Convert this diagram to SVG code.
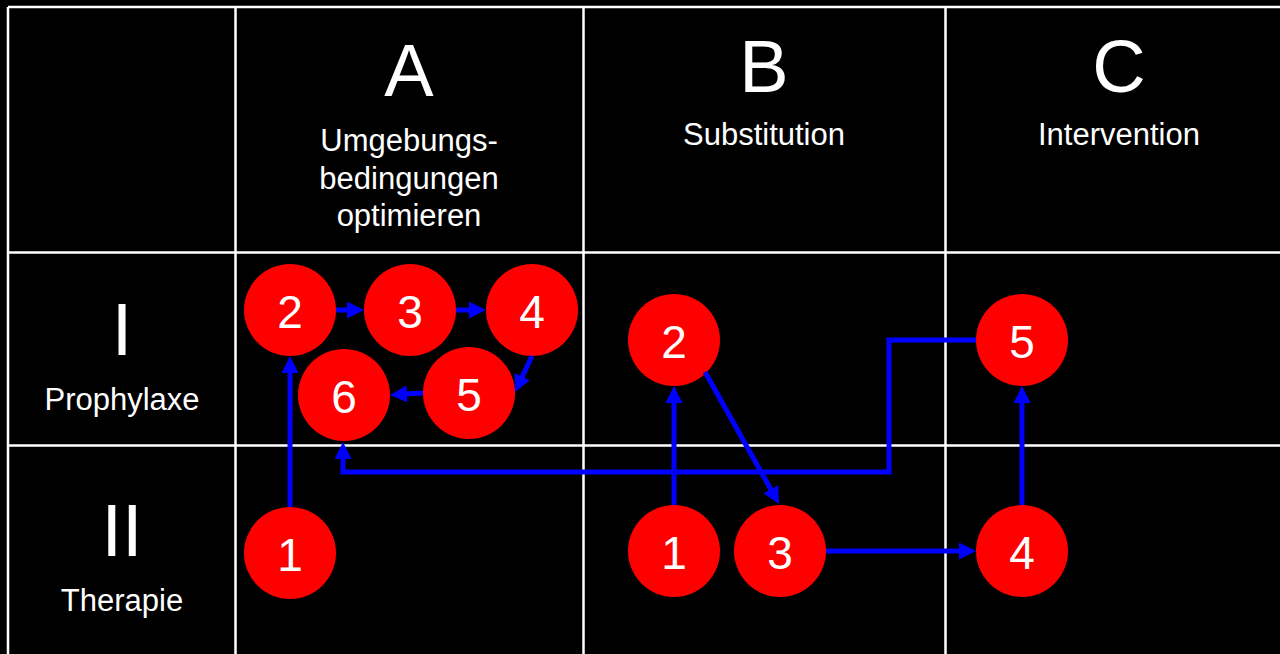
<svg xmlns="http://www.w3.org/2000/svg" width="1280" height="654" viewBox="0 0 1280 654">
<defs>
<style>
.grid{stroke:#ffffff;stroke-width:2.5;fill:none}
.node circle{fill:#ff0000}
.node text{fill:#ffffff;font-family:"Liberation Sans",Arial,sans-serif;font-size:46px;text-anchor:middle}
.hdr{fill:#ffffff;font-family:"Liberation Sans",Arial,sans-serif;text-anchor:middle}
.big{font-size:74px}
.sub{font-size:31px}
.conn{stroke:#0000ff;stroke-width:5;fill:none;marker-end:url(#arr)}
</style>
<marker id="arr" viewBox="0 0 17 17" refX="11" refY="8.5" markerWidth="17" markerHeight="17" markerUnits="userSpaceOnUse" orient="auto">
<path d="M0,0 L17,8.5 L0,17 z" fill="#0000ff"/>
</marker>
</defs>
<rect x="0" y="0" width="1280" height="654" fill="#000000"/>
<g id="grid" class="grid">
<line x1="8" y1="7" x2="1280" y2="7"/>
<line x1="8" y1="7" x2="8" y2="654"/>
<line x1="235.5" y1="7" x2="235.5" y2="654"/>
<line x1="583.5" y1="7" x2="583.5" y2="654"/>
<line x1="945.5" y1="7" x2="945.5" y2="654"/>
<line x1="8" y1="252.5" x2="1280" y2="252.5"/>
<line x1="8" y1="445.5" x2="1280" y2="445.5"/>
</g>
<g id="headers" class="hdr">
<text class="big" x="409" y="96">A</text>
<text class="sub" x="409" y="151">Umgebungs-</text>
<text class="sub" x="409" y="189">bedingungen</text>
<text class="sub" x="409" y="226">optimieren</text>
<text class="big" x="764" y="92">B</text>
<text class="sub" x="764" y="145">Substitution</text>
<text class="big" x="1119" y="92">C</text>
<text class="sub" x="1119" y="145">Intervention</text>
<text class="big" x="122" y="355">I</text>
<text class="sub" x="122" y="410">Prophylaxe</text>
<text class="big" x="122" y="556">II</text>
<text class="sub" x="122" y="611">Therapie</text>
</g>
<g id="A1" class="node"><circle cx="290" cy="553" r="46"/><text x="290" y="571">1</text></g>
<g id="A2" class="node"><circle cx="290" cy="310" r="46"/><text x="290" y="328">2</text></g>
<g id="A3" class="node"><circle cx="410" cy="310" r="46"/><text x="410" y="328">3</text></g>
<g id="A4" class="node"><circle cx="532" cy="310" r="46"/><text x="532" y="328">4</text></g>
<g id="A5" class="node"><circle cx="469" cy="393" r="46"/><text x="469" y="411">5</text></g>
<g id="A6" class="node"><circle cx="344" cy="395" r="46"/><text x="344" y="413">6</text></g>
<g id="B1" class="node"><circle cx="674" cy="551" r="46"/><text x="674" y="569">1</text></g>
<g id="B2" class="node"><circle cx="674" cy="340" r="46"/><text x="674" y="358">2</text></g>
<g id="B3" class="node"><circle cx="780" cy="551" r="46"/><text x="780" y="569">3</text></g>
<g id="C4" class="node"><circle cx="1022" cy="551" r="46"/><text x="1022" y="569">4</text></g>
<g id="C5" class="node"><circle cx="1022" cy="340" r="46"/><text x="1022" y="358">5</text></g>
<g id="connectors">
<line class="conn" x1="290" y1="507" x2="290" y2="362"/>
<line class="conn" x1="336" y1="310" x2="358" y2="310"/>
<line class="conn" x1="456" y1="310" x2="480" y2="310"/>
<line class="conn" x1="532" y1="356" x2="517.6" y2="386.6"/>
<line class="conn" x1="423" y1="393" x2="396" y2="394.6"/>
<polyline class="conn" points="976,340 889,340 889,472 343,472 343,448"/>
<line class="conn" x1="674" y1="505" x2="674" y2="392"/>
<line class="conn" x1="705" y1="372" x2="776.1" y2="498.8"/>
<line class="conn" x1="826" y1="551" x2="970" y2="551"/>
<line class="conn" x1="1022" y1="505" x2="1022" y2="392"/>
</g>
</svg>
